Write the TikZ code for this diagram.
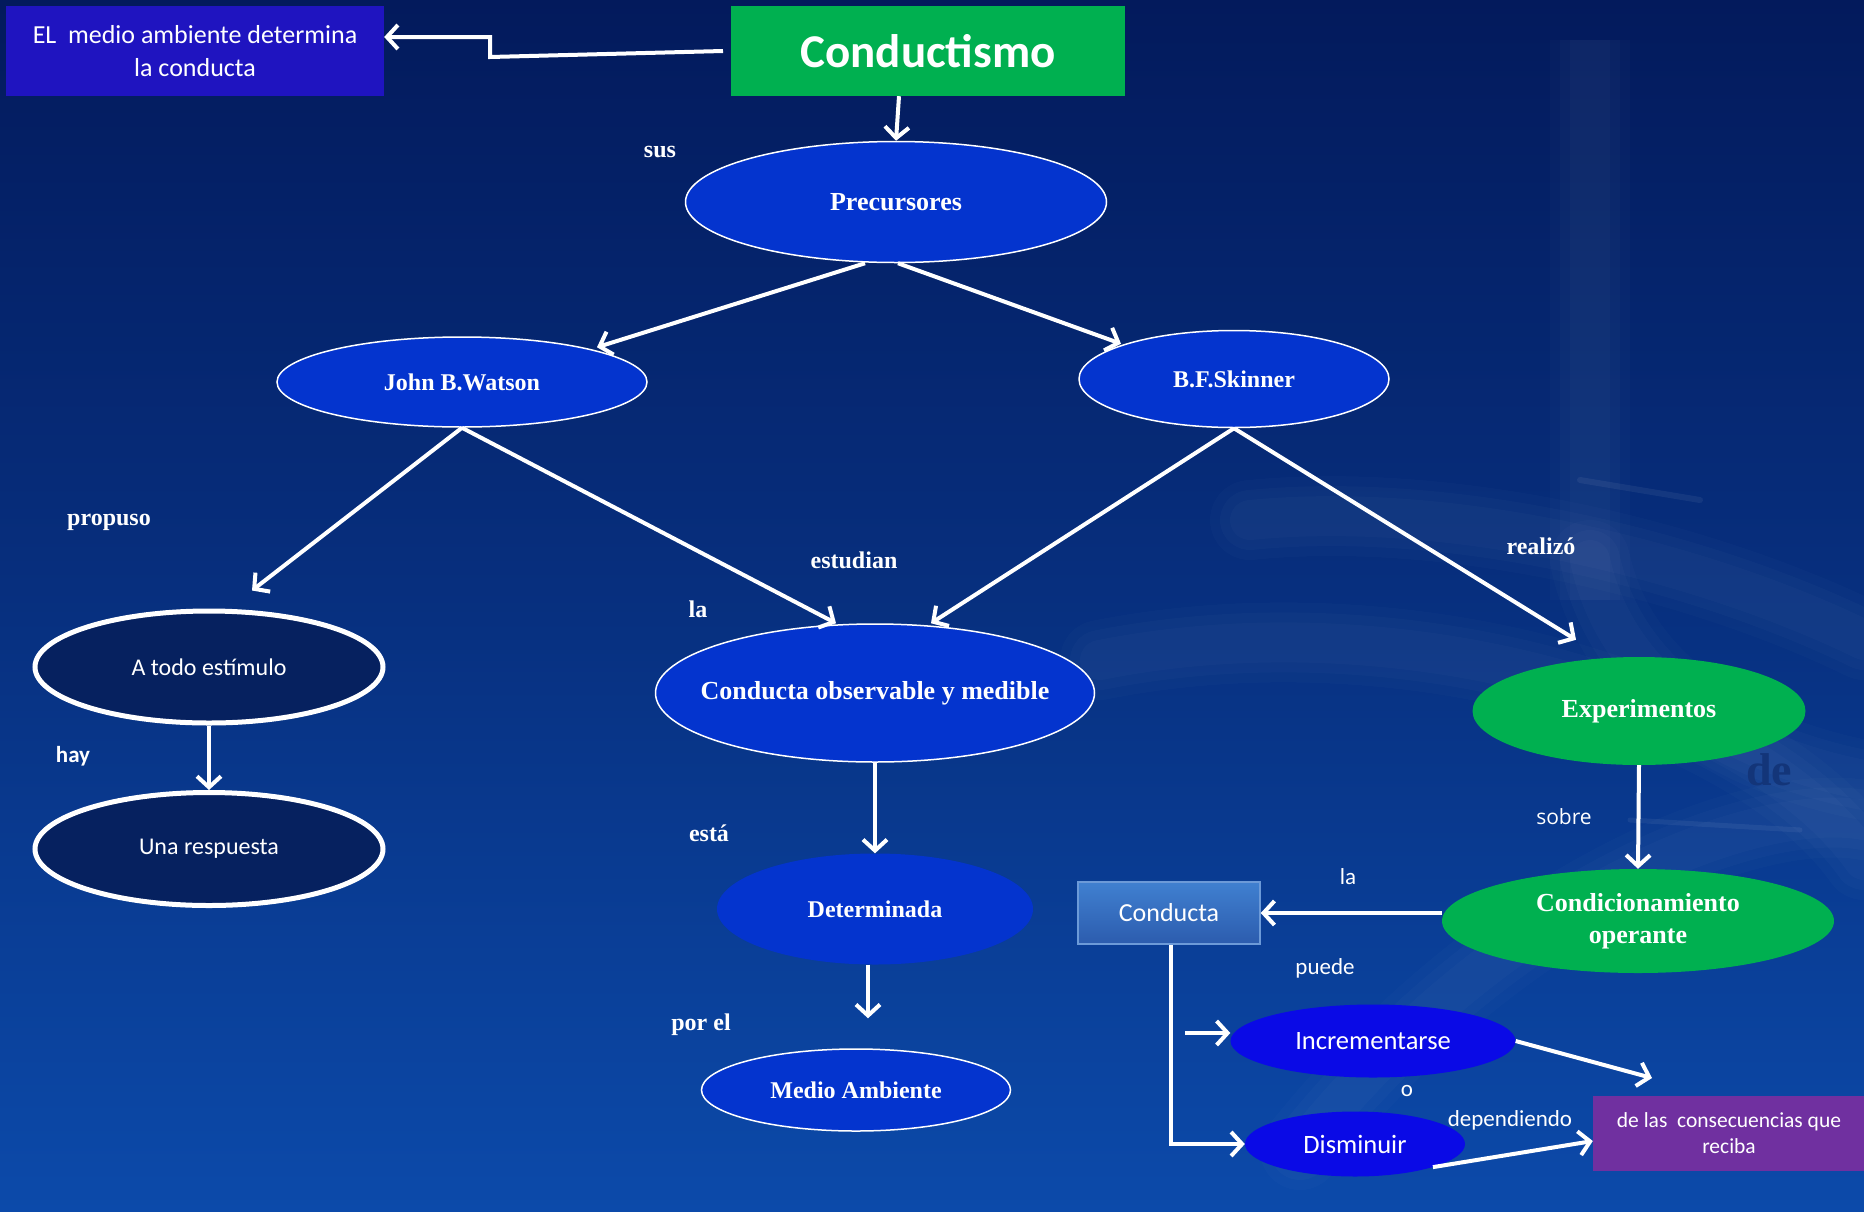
\documentclass[tikz,border=0pt]{standalone}
\usepackage{fontspec}
\setmainfont{Liberation Serif}
\newfontfamily\calib{Carlito}
\newfontfamily\opens{Open Sans}
\usetikzlibrary{arrows.meta,shapes.geometric}
\definecolor{bgtop}{HTML}{031A5C}
\definecolor{bgbot}{HTML}{0C4AAA}
\definecolor{elblue}{HTML}{0434CE}
\definecolor{navy}{HTML}{06215F}
\definecolor{gr}{HTML}{00B050}
\definecolor{violet}{HTML}{1F14C0}
\definecolor{brightb}{HTML}{0A0AE6}
\definecolor{purp}{HTML}{7030A0}
\definecolor{ghost}{HTML}{133579}
\definecolor{boxtop}{HTML}{4080D0}
\definecolor{boxbot}{HTML}{2C5CAE}
\definecolor{boxedge}{HTML}{6C9AD8}
\tikzset{
  arr/.style={draw=white,line width=4pt,-{Straight Barb[length=11pt,width=24pt,line width=4pt]}},
  ell/.style={ellipse,fill=elblue,inner sep=0pt,text=white,font=\fontsize{24}{28}\selectfont\bfseries},
  wb/.style={draw=white,line width=1.5pt},
  lab/.style={text=white,font=\fontsize{24}{28}\selectfont\bfseries,inner sep=0pt},
  slab/.style={text=white,font=\calib\fontsize{23}{26}\selectfont,inner sep=0pt},
}
\begin{document}
\begin{tikzpicture}[x=1pt,y=-1pt]
\shade[top color=bgtop,bottom color=bgbot,middle color=bgtop!55!bgbot] (0,0) rectangle (1864,1211);
\useasboundingbox (0,0) rectangle (1864,1211);
% faint swirls
\begin{scope}[white,line cap=round]
\foreach \w/\o in {80/0.015,60/0.02,40/0.02}{
\fill[opacity=\o] (1590-\w/2,40) rectangle (1590+\w/2,600);
\draw[opacity=\o,line width=\w pt] (1250,520) .. controls (1450,500) and (1700,560) .. (1864,640);
\draw[opacity=\o,line width=\w pt] (1100,660) .. controls (1400,600) and (1750,700) .. (1864,860);
\draw[opacity=\o,line width=\w pt] (1300,1150) .. controls (1500,900) and (1750,800) .. (1864,820);
\draw[opacity=\o,line width=\w pt] (1590,560) .. controls (1620,700) and (1760,760) .. (1864,780);
}
\draw[opacity=0.06,line width=6pt] (1580,480) -- (1700,500);
\draw[opacity=0.06,line width=5pt] (1630,820) -- (1800,830);
\end{scope}
% nodes
\node[fill=violet,minimum width=378pt,minimum height=90pt,inner sep=0pt,text=white,align=center,font=\calib\fontsize{26}{33}\selectfont] (el) at (195,51) {EL\ \ medio ambiente determina\\la conducta};
\node[fill=gr,minimum width=394pt,minimum height=90pt,inner sep=0pt,text=white,font=\calib\fontsize{47}{56}\selectfont\bfseries] (cond) at (928,51) {Conductismo};
\node[ell,wb,minimum width=421pt,minimum height=121pt,font=\fontsize{26}{30}\selectfont\bfseries] (prec) at (896,202) {Precursores};
\node[ell,wb,minimum width=370pt,minimum height=90pt] (wat) at (462,382) {John B.Watson};
\node[ell,wb,minimum width=310pt,minimum height=97pt] (ski) at (1234,379) {B.F.Skinner};
\node[ellipse,fill=navy,draw=white,line width=5pt,minimum width=348pt,minimum height=112pt,inner sep=0pt,text=white,font=\calib\fontsize{24}{28}\selectfont] (est) at (209,667) {A todo estímulo};
\node[ellipse,fill=navy,draw=white,line width=5pt,minimum width=348pt,minimum height=113pt,inner sep=0pt,text=white,font=\calib\fontsize{24}{28}\selectfont] (resp) at (209,849) {Una respuesta};
\node[ell,wb,minimum width=439pt,minimum height=138pt,font=\fontsize{26}{30}\selectfont\bfseries] (obs) at (875,693) {\makebox[0pt]{Conducta observable y medible}};
\node[ell,minimum width=316pt,minimum height=111pt] (det) at (875,909) {Determinada};
\node[ell,wb,minimum width=309pt,minimum height=82pt] (med) at (856,1090) {Medio Ambiente};
\node[ellipse,fill=gr,inner sep=0pt,minimum width=333pt,minimum height=108pt,text=white,font=\fontsize{26}{30}\selectfont\bfseries] (exp) at (1639,711) {Experimentos};
\node[ellipse,fill=gr,inner sep=0pt,minimum width=392pt,minimum height=104pt,text=white,align=center,font=\fontsize{26}{32}\selectfont\bfseries] (cop) at (1638,921) {Condicionamiento\\operante};
\node[rectangle,top color=boxtop,bottom color=boxbot,draw=boxedge,line width=1.5pt,minimum width=182pt,minimum height=62pt,inner sep=0pt,text=white,font=\calib\fontsize{26}{30}\selectfont] (ctab) at (1169,913) {Conducta};
\node[ellipse,fill=brightb,inner sep=0pt,minimum width=285pt,minimum height=73pt,text=white,font=\calib\fontsize{26.5}{30}\selectfont] (inc) at (1373,1041) {Incrementarse};
\node[ellipse,fill=brightb,inner sep=0pt,minimum width=220pt,minimum height=65pt,text=white,font=\calib\fontsize{26.5}{30}\selectfont] (dis) at (1355,1144) {Disminuir};
\node[fill=purp,minimum width=272pt,minimum height=75pt,inner sep=0pt,text=white,align=center,font=\calib\fontsize{21.5}{26}\selectfont] (cons) at (1729,1133) {de las\ \ consecuencias que\\reciba};
% labels
\node[lab] (l1) at (660,152) {sus};
\node[lab] (l2) at (109,522) {propuso};
\node[lab] (l3) at (854,560) {estudian};
\node[lab] (l4) at (698,609) {la};
\node[lab] (l5) at (1541,546) {realizó};
\node[text=white,font=\calib\fontsize{23}{26}\selectfont\bfseries,inner sep=0pt] (l6) at (73,756) {hay};
\node[lab] (l7) at (709,833) {está};
\node[lab] (l8) at (701,1025) {por el};
\node[text=white,font=\opens\fontsize{21}{25}\selectfont,inner sep=0pt] (l9) at (1564,817) {sobre};
\node[text=ghost,font=\fontsize{46}{50}\selectfont\bfseries,inner sep=0pt] (l10) at (1769,770) {de};
\node[slab] (l11) at (1348,877) {la};
\node[slab] (l12) at (1325,968) {puede};
\node[slab] (l13) at (1407,1091) {o};
\node[slab] (l14) at (1510,1120) {dependiendo};
% coordinates
\coordinate (c0) at (723,51);
\coordinate (c1) at (490,57);
\coordinate (c2) at (490,37);
\coordinate (c3) at (1171,1144);
\coordinate (c4) at (1185,1033);
\coordinate (c5) at (1652,1078);
% connectors
\draw[arr] (c0) -- (c1) -- (c2) -- (el.east |- c2);
\draw[arr] ([xshift=-29pt]cond.south) -- (prec.north);
\draw[arr] ([xshift=-31pt]prec.south) -- ([xshift=135pt,yshift=-11pt]wat.north);
\draw[arr] ([xshift=2pt]prec.south) -- ([xshift=-113pt,yshift=-14pt]ski.north);
\draw[arr] (wat.south) -- ([xshift=43pt,yshift=18pt]est.north);
\draw[arr] (wat.south) -- ([xshift=-39pt]obs.north);
\draw[arr] (ski.south) -- ([xshift=56pt]obs.north);
\draw[arr] (ski.south) -- ([xshift=-63pt,yshift=17pt]exp.north);
\draw[arr] (est.south) -- (resp.north);
\draw[arr] (obs.south) -- (det.north);
\draw[arr] ([xshift=-7pt]det.south) -- ([xshift=12pt,yshift=30pt]med.north);
\draw[arr] (exp.south) -- (cop.north);
\draw[arr] ([yshift=8pt]cop.west) -- (ctab.east);
\draw[arr] ([xshift=2pt]ctab.south) -- (c3) -- (dis.west);
\draw[arr] (c4) -- ([yshift=8pt]inc.west);
\draw[arr] (inc.east) -- (c5);
\draw[arr] (dis.south east) -- ([yshift=-8pt]cons.west);
\end{tikzpicture}
\end{document}
